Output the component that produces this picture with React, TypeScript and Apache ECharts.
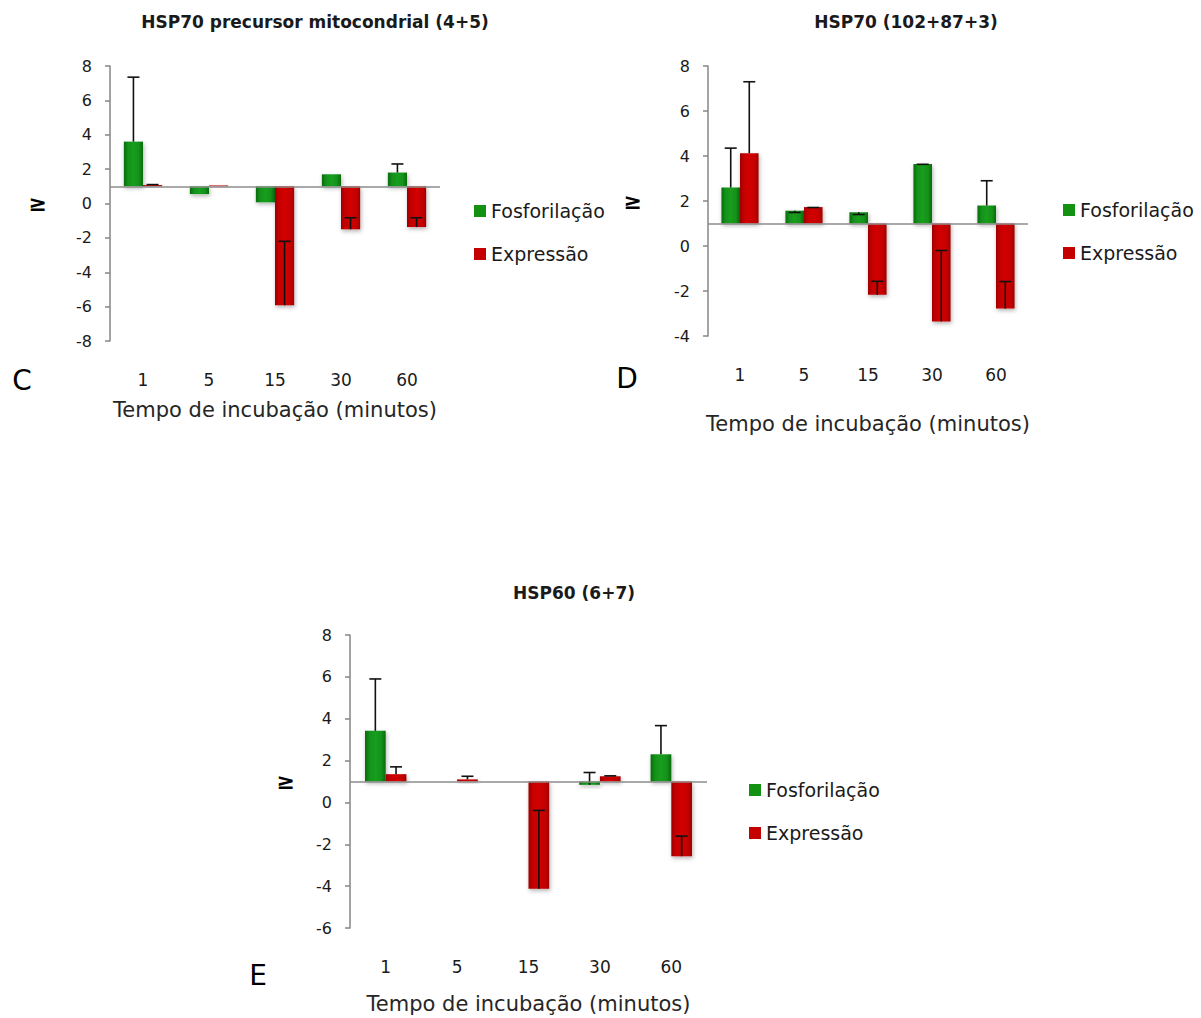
import React, { useEffect, useRef } from 'react';
import * as echarts from 'echarts';

const categories = ['1', '5', '15', '30', '60'];

// Chart C: HSP70 precursor mitocondrial (4+5)
const cFos = [3.6, 0.55, 0.07, 1.7, 1.8];
const cFosErr = [3.75, 0, 0, 0, 0.5];
const cExp = [1.07, 1.05, -5.92, -1.5, -1.37];
const cExpErr = [0.03, 0, 3.72, 0.67, 0.54];

// Chart D: HSP70 (102+87+3)
const dFos = [2.6, 1.57, 1.5, 3.65, 1.8];
const dFosErr = [1.75, -0.08, -0.1, -0.02, 1.1];
const dExp = [4.12, 1.73, -2.17, -3.35, -2.78];
const dExpErr = [3.18, -0.02, 0.6, 3.15, 1.2];

// Chart E: HSP60 (6+7)
const eFos = [3.42, 1.0, 1.0, 0.84, 2.3];
const eFosErr = [2.48, 0, 0, 0.59, 1.37];
const eExp = [1.35, 1.1, -4.13, 1.25, -2.57];
const eExpErr = [0.35, 0.15, 3.75, 0.02, 0.96];

const FONT = '"DejaVu Sans", Verdana, sans-serif';
const BASE = 1;

const greenGrad = () =>
  new echarts.graphic.LinearGradient(0, 0, 1, 0, [
    { offset: 0, color: '#0b6a0b' },
    { offset: 0.2, color: '#12901a' },
    { offset: 0.5, color: '#1a9e1f' },
    { offset: 0.8, color: '#12901a' },
    { offset: 1, color: '#0b6a0b' },
  ]);
const redGrad = () =>
  new echarts.graphic.LinearGradient(0, 0, 1, 0, [
    { offset: 0, color: '#9c0000' },
    { offset: 0.2, color: '#c40000' },
    { offset: 0.5, color: '#d20606' },
    { offset: 0.8, color: '#c40000' },
    { offset: 1, color: '#9c0000' },
  ]);

function makeRender(side: 'left' | 'right') {
  return (params: any, api: any) => {
    const idx = api.value(0);
    const v = api.value(1);
    const err = api.value(2);
    const band = api.size([1, 0])[0];
    const w = band * 0.29;
    const c = api.coord([idx, BASE]);
    const xc = c[0];
    const y0 = c[1];
    const y1 = api.coord([idx, v])[1];
    const x = side === 'left' ? xc - w : xc;
    const top = Math.min(y0, y1);
    const h = Math.abs(y1 - y0);
    const children: any[] = [];
    if (h > 0.2) {
      children.push({
        type: 'rect',
        shape: { x, y: top, width: w, height: h },
        style: {
          fill: side === 'left' ? greenGrad() : redGrad(),
          shadowBlur: 4,
          shadowColor: 'rgba(0,0,0,0.3)',
          shadowOffsetY: 2,
          shadowOffsetX: 1,
        },
      });
    }
    if (err) {
      const ye = api.coord([idx, v + err])[1];
      const xm = x + w / 2;
      children.push({
        type: 'line',
        shape: { x1: xm, y1: y1, x2: xm, y2: ye },
        style: { stroke: '#111', lineWidth: 1.6 },
      });
      children.push({
        type: 'line',
        shape: { x1: xm - 6, y1: ye, x2: xm + 6, y2: ye },
        style: { stroke: '#111', lineWidth: 1.6 },
      });
    }
    return { type: 'group', children };
  };
}

const toData = (vals: number[], errs: number[]) => vals.map((v, i) => [i, v, errs[i]]);

interface PanelDef {
  left: number;
  top: number;
  width: number;
  height: number;
  min: number;
  max: number;
  xNameGap: number;
  yNameGap: number;
  fos: number[];
  fosErr: number[];
  exp: number[];
  expErr: number[];
}

const panels: PanelDef[] = [
  { left: 110, top: 66, width: 330, height: 275, min: -8, max: 8, xNameGap: 58, yNameGap: 63, fos: cFos, fosErr: cFosErr, exp: cExp, expErr: cExpErr },
  { left: 708, top: 66, width: 320, height: 270, min: -4, max: 8, xNameGap: 77, yNameGap: 66, fos: dFos, fosErr: dFosErr, exp: dExp, expErr: dExpErr },
  { left: 350, top: 635, width: 357, height: 293, min: -6, max: 8, xNameGap: 65, yNameGap: 55, fos: eFos, fosErr: eFosErr, exp: eExp, expErr: eExpErr },
];

const titles = [
  { text: 'HSP70 precursor mitocondrial (4+5)', x: 315, y: 22 },
  { text: 'HSP70 (102+87+3)', x: 906, y: 22 },
  { text: 'HSP60 (6+7)', x: 574, y: 593 },
];

const letters = [
  { text: 'C', x: 22, y: 380 },
  { text: 'D', x: 627, y: 378 },
  { text: 'E', x: 258, y: 975 },
];

const legendPos = [
  { left: 469, top: 195 },
  { left: 1058, top: 194 },
  { left: 744, top: 774 },
];

export default function App() {
  const ref = useRef<HTMLDivElement>(null);
  useEffect(() => {
    if (!ref.current) return;
    const chart = echarts.init(ref.current, null, { renderer: 'svg' });
    const grid: any[] = [];
    const xAxis: any[] = [];
    const yAxis: any[] = [];
    const series: any[] = [];
    panels.forEach((p, gi) => {
      grid.push({ left: p.left, top: p.top, width: p.width, height: p.height, containLabel: false });
      xAxis.push({
        type: 'category',
        gridIndex: gi,
        data: categories,
        axisLine: { show: false },
        axisTick: { show: false },
        axisLabel: { margin: 30, fontSize: 17, color: '#1a1a1a', fontFamily: FONT },
        name: 'Tempo de incubação (minutos)',
        nameLocation: 'middle',
        nameGap: p.xNameGap,
        nameTextStyle: { fontSize: 21, color: '#262626', fontFamily: FONT },
      });
      yAxis.push({
        type: 'value',
        gridIndex: gi,
        min: p.min,
        max: p.max,
        interval: 2,
        axisLine: { show: true, lineStyle: { color: '#868686', width: 1.5 } },
        axisTick: { show: true, length: 5, lineStyle: { color: '#868686', width: 1.5 } },
        splitLine: { show: false },
        axisLabel: { margin: 18, fontSize: 16, color: '#1a1a1a', fontFamily: FONT },
        name: '≥',
        nameLocation: 'middle',
        nameRotate: 0,
        nameGap: p.yNameGap,
        nameTextStyle: { fontSize: 22, fontWeight: 'bold', color: '#000', fontFamily: FONT },
      });
      series.push({
        type: 'custom',
        name: 'Fosforilação',
        xAxisIndex: gi,
        yAxisIndex: gi,
        renderItem: makeRender('left'),
        encode: { x: 0, y: 1 },
        itemStyle: { color: '#139113' },
        data: toData(p.fos, p.fosErr),
        z: 3,
        markLine: {
          silent: true,
          symbol: ['none', 'none'],
          label: { show: false },
          lineStyle: { color: '#8c8c8c', width: 1.5, type: 'solid' },
          data: [{ yAxis: BASE }],
          z: 5,
        },
      });
      series.push({
        type: 'custom',
        name: 'Expressão',
        xAxisIndex: gi,
        yAxisIndex: gi,
        renderItem: makeRender('right'),
        encode: { x: 0, y: 1 },
        itemStyle: { color: '#c40000' },
        data: toData(p.exp, p.expErr),
        z: 3,
      });
    });
    const legend = legendPos.map((lp) => ({
      data: ['Fosforilação', 'Expressão'],
      orient: 'vertical',
      left: lp.left,
      top: lp.top,
      icon: 'rect',
      itemWidth: 12,
      itemHeight: 12,
      itemGap: 21,
      selectedMode: false,
      textStyle: { fontSize: 19, color: '#1a1a1a', fontFamily: FONT, lineHeight: 22 },
    }));
    const graphic: any[] = [
      ...titles.map((t) => ({
        type: 'text',
        x: t.x,
        y: t.y,
        style: {
          text: t.text,
          fill: '#1a1a1a',
          font: `bold 17px ${FONT}`,
          align: 'center',
          verticalAlign: 'middle',
        },
      })),
      ...letters.map((t) => ({
        type: 'text',
        x: t.x,
        y: t.y,
        style: {
          text: t.text,
          fill: '#000',
          font: `28px ${FONT}`,
          align: 'center',
          verticalAlign: 'middle',
        },
      })),
    ];
    chart.setOption({
      animation: false,
      backgroundColor: '#ffffff',
      grid,
      xAxis,
      yAxis,
      series,
      legend,
      graphic,
    });
    return () => chart.dispose();
  }, []);
  return (
    <div
      ref={ref}
      style={{ position: 'fixed', left: 0, top: 0, width: 1201, height: 1018, background: '#fff' }}
    />
  );
}
